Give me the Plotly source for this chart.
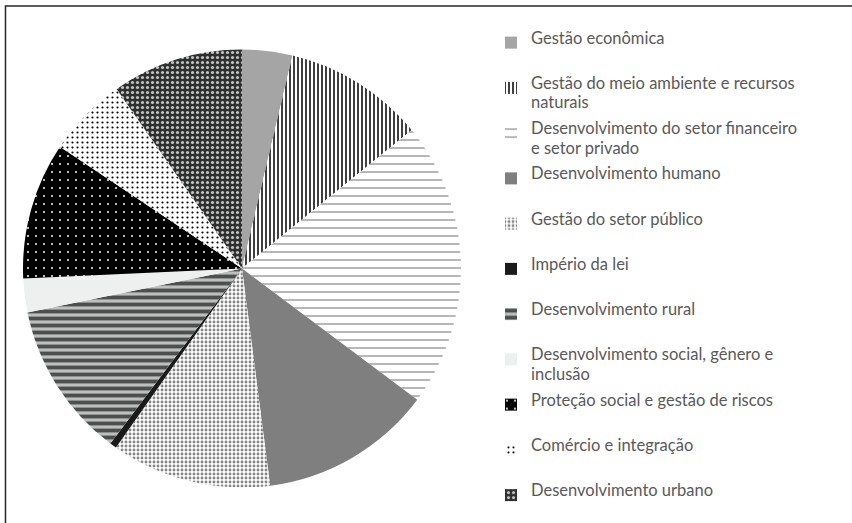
import textwrap
import plotly.graph_objects as go

labels = [
    "Gestão econômica",
    "Gestão do meio ambiente e recursos naturais",
    "Desenvolvimento do setor financeiro e setor privado",
    "Desenvolvimento humano",
    "Gestão do setor público",
    "Império da lei",
    "Desenvolvimento rural",
    "Desenvolvimento social, gênero e inclusão",
    "Proteção social e gestão de riscos",
    "Comércio e integração",
    "Desenvolvimento urbano",
]
values = [3.7, 10.4, 21.1, 12.7, 11.8, 0.5, 11.5, 2.5, 10.1, 5.9, 9.7]

# styling (not data)
base_colors = ["#A5A5A5", "#FFFFFF", "#FFFFFF", "#7F7F7F", "#FFFFFF", "#1A1A1A",
               "#BDBFBF", "#EEEFEF", "#000000", "#FFFFFF", "#2E2F2F"]
p_shape = ["", "|", "-", "", ".", "", "-", "", ".", ".", "."]
p_fg = ["#A5A5A5", "#3F3F3F", "#A6A6A6", "#7F7F7F", "#858585", "#1A1A1A",
        "#4D4F4F", "#EEEFEF", "#FFFFFF", "#000000", "#C4C4C4"]
p_bg = base_colors
p_size = [8, 4, 8, 8, 4, 8, 7, 8, 8, 5, 5]
p_sol = [0.3, 0.5, 0.2, 0.3, 0.4, 0.3, 0.55, 0.3, 0.05, 0.15, 0.3]

TEXT_PX = 16.5
BLANK = " "
ROWS_ABOVE = 6      # thin rows: swatch sits on the first text line
ROWS_GAP = 6        # wrapped line sits ROWS_GAP thin rows below


def span(t):
    return f"<span style='font-size:{TEXT_PX}px'>{t}</span>"


def legend_label(name):
    lines = textwrap.wrap(name, 35)
    second = span(lines[1]) if len(lines) > 1 else BLANK
    rows = [BLANK] * ROWS_ABOVE + [span(lines[0])] + [BLANK] * (ROWS_GAP - 1) + [second]
    return "<br>".join(rows)


display = [legend_label(n) for n in labels]

fig = go.Figure(go.Pie(
    labels=display,
    values=values,
    sort=False,
    direction="clockwise",
    rotation=0,
    textinfo="none",
    hoverinfo="percent",
    marker=dict(
        colors=base_colors,
        line=dict(width=0),
        pattern=dict(shape=p_shape, fgcolor=p_fg, bgcolor=p_bg,
                     size=p_size, solidity=p_sol, fillmode="replace"),
    ),
    domain=dict(x=[23 / 852, 461 / 852], y=[35.5 / 523, 473.5 / 523]),
))

fig.add_shape(type="rect", xref="paper", yref="paper",
              x0=5.5 / 852, y0=-0.1, x1=1.1, y1=(523 - 6) / 523,
              line=dict(color="#262626", width=1.5), layer="below")

fig.update_layout(
    width=852, height=523,
    margin=dict(l=0, r=0, t=0, b=0),
    paper_bgcolor="white",
    plot_bgcolor="white",
    font=dict(family="Lato, 'Open Sans', sans-serif", color="#595959"),
    legend=dict(
        x=491 / 852, xanchor="left",
        y=1 - 21 / 523, yanchor="top",
        font=dict(size=2.5, color="#595959", family="Lato, sans-serif"),
        bgcolor="rgba(0,0,0,0)",
        borderwidth=0,
        tracegroupgap=0,
    ),
    showlegend=True,
)

fig.write_html("out.html", config={"displayModeBar": False},
               post_script="document.body.style.margin='0px';")
